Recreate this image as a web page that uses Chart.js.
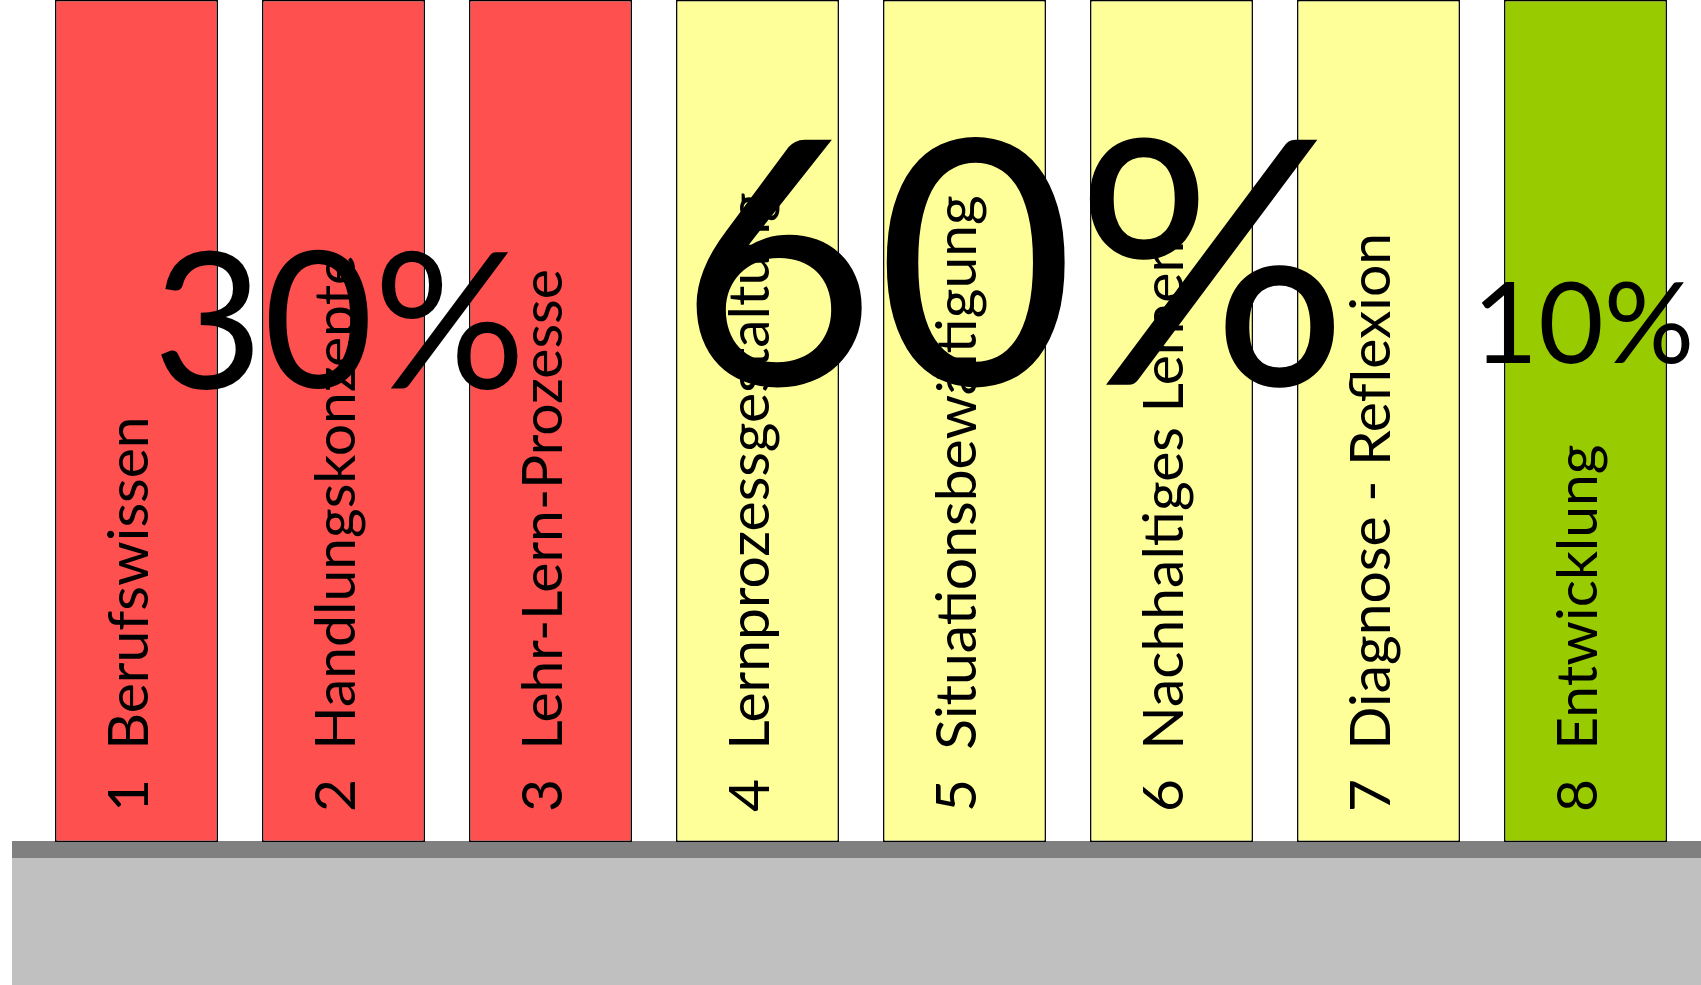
<!DOCTYPE html>
<html>
<head>
<meta charset="utf-8">
<script src="https://cdn.jsdelivr.net/npm/chart.js@4/dist/chart.umd.min.js"></script>
<style>
  html, body { margin: 0; padding: 0; background: #ffffff; overflow: hidden; }
  #wrap { width: 1701px; height: 985px; }
</style>
</head>
<body>
<div id="wrap"><canvas id="c" width="1701" height="985"></canvas></div>
<script>
// ---- data ----
const numbers = ['1', '2', '3', '4', '5', '6', '7', '8'];
const categories = [
  'Berufswissen',
  'Handlungskonzepte',
  'Lehr-Lern-Prozesse',
  'Lernprozessgestaltung',
  'Situationsbewältigung',
  'Nachhaltiges Lernen',
  'Diagnose - Reflexion',
  'Entwicklung'
];
const pillarValues = [1, 1, 1, 1, 1, 1, 1, 1];
const groupOfBar = [0, 0, 0, 1, 1, 1, 1, 2];
const groupShares = [30, 60, 10];
const groupShareLabels = groupShares.map(v => v + '%');

// ---- styles ----
const groupColors = ['#FF5050', '#FFFF99', '#99CC00'];
const FONT = 'Lato, "Open Sans", sans-serif';

const basePlugin = {
  id: 'basePlinth',
  beforeDatasetsDraw(chart) {
    const { ctx, chartArea, width, height } = chart;
    ctx.save();
    ctx.fillStyle = '#C0C0C0';
    ctx.fillRect(12, chartArea.bottom + 16, width - 12, height - chartArea.bottom - 16);
    ctx.fillStyle = '#808080';
    ctx.fillRect(12, chartArea.bottom - 1, width - 12, 17);
    ctx.restore();
  }
};

const labelPlugin = {
  id: 'pillarLabels',
  afterDatasetsDraw(chart) {
    const { ctx, chartArea } = chart;
    const xs = chart.scales.x;
    const ys = chart.scales.y;
    ctx.save();
    ctx.fillStyle = '#000000';
    // rotated labels inside bars
    ctx.font = '57px ' + FONT;
    ctx.textAlign = 'left';
    ctx.textBaseline = 'alphabetic';
    categories.forEach((name, i) => {
      const x = xs.getPixelForValue(i) + 11;
      const y = chartArea.bottom - 30;
      ctx.save();
      ctx.translate(x, y);
      ctx.rotate(-Math.PI / 2);
      ctx.fillText(numbers[i] + '\u00A0\u00A0' + name, 0, 0);
      ctx.restore();
    });
    // big group percentages
    const spots = [
      { xv: 0.98, yv: 0.539, size: 190 },
      { xv: 4.237, yv: 0.543, size: 342 },
      { xv: 6.99, yv: 0.569, size: 113 }
    ];
    ctx.textAlign = 'center';
    groupShareLabels.forEach((t, g) => {
      const s = spots[g];
      ctx.font = s.size + 'px ' + FONT;
      ctx.fillText(t, xs.getPixelForValue(s.xv), ys.getPixelForValue(s.yv));
    });
    ctx.restore();
  }
};

function draw() {
  new Chart(document.getElementById('c'), {
    type: 'bar',
    data: {
      labels: categories,
      datasets: [{
        data: pillarValues,
        backgroundColor: groupOfBar.map(g => groupColors[g]),
        borderColor: '#000000',
        borderWidth: 1.5,
        borderSkipped: false,
        categoryPercentage: 1,
        barPercentage: 0.787
      }]
    },
    options: {
      responsive: false,
      animation: false,
      devicePixelRatio: 1,
      layout: { padding: { left: 33, right: 12, top: 0, bottom: 143 } },
      plugins: { legend: { display: false }, tooltip: { enabled: false }, title: { display: false } },
      scales: {
        x: { display: false, offset: true },
        y: { display: false, min: 0, max: 1 }
      }
    },
    plugins: [basePlugin, labelPlugin]
  });
}

if (document.fonts && document.fonts.load) {
  Promise.all([document.fonts.load('60px Lato'), document.fonts.load('60px "Open Sans"')])
    .then(draw, draw);
} else {
  draw();
}
</script>
</body>
</html>
